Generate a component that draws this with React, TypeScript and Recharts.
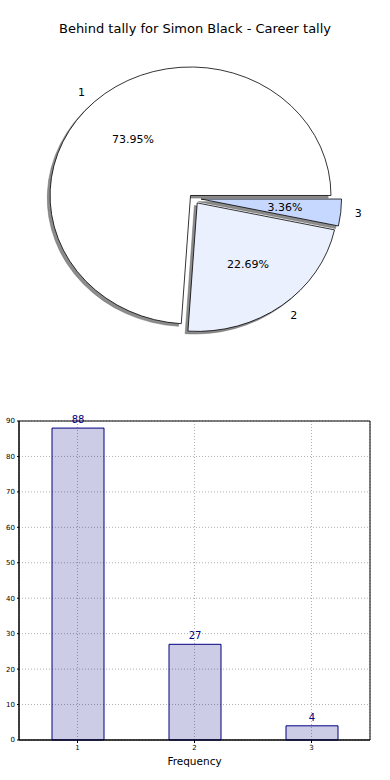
import {
  PieChart,
  Pie,
  BarChart,
  Bar,
  XAxis,
  YAxis,
  CartesianGrid,
  LabelList,
  ReferenceArea,
} from "recharts";

const CATEGORIES = ["1", "2", "3"];
const COUNTS = [88, 27, 4];
const Y_TICKS = [0, 10, 20, 30, 40, 50, 60, 70, 80, 90];
const TITLE = "Behind tally for Simon Black - Career tally";

const PIE_COLORS = ["#ffffff", "#eaf0fd", "#c6d8ff"];
const EXPLODE = [0.03, 0.045, 0.055];
const X_STRETCH = 1.093;
const SHADOW_DX = -2.8;
const SHADOW_DY = 2.6;
const RAD = Math.PI / 180;

const data = CATEGORIES.map((name, i) => ({ name, value: COUNTS[i] }));

function wedgePath(cx: number, cy: number, rx: number, ry: number, start: number, end: number) {
  const x1 = cx + rx * Math.cos(start * RAD);
  const y1 = cy - ry * Math.sin(start * RAD);
  const x2 = cx + rx * Math.cos(end * RAD);
  const y2 = cy - ry * Math.sin(end * RAD);
  const large = Math.abs(end - start) > 180 ? 1 : 0;
  return `M${cx},${cy} L${x1},${y1} A${rx},${ry} 0 ${large} 0 ${x2},${y2} Z`;
}

// matplotlib-style elliptical, exploded wedge drawn from the sector geometry recharts computes
const wedge = (shadow: boolean) => (props: any) => {
  const { cx, cy, outerRadius, startAngle, endAngle, midAngle, index, percent, name } = props;
  const rx = outerRadius * X_STRETCH;
  const ry = outerRadius;
  const c = Math.cos(midAngle * RAD);
  const s = Math.sin(midAngle * RAD);
  const ox = cx + EXPLODE[index] * rx * c;
  const oy = cy - EXPLODE[index] * ry * s;

  if (shadow) {
    return (
      <path
        key={`sh-${index}`}
        d={wedgePath(ox + SHADOW_DX, oy + SHADOW_DY, rx, ry, startAngle, endAngle)}
        fill="#8c8c8c"
        stroke="#6a6a6a"
        strokeWidth={0.5}
      />
    );
  }

  return (
    <g key={`w-${index}`}>
      <path
        d={wedgePath(ox, oy, rx, ry, startAngle, endAngle)}
        fill={PIE_COLORS[index]}
        stroke="#000"
        strokeWidth={0.8}
      />
      <text
        x={ox + 1.1 * rx * c}
        y={oy - 1.1 * ry * s}
        textAnchor={c >= 0 ? "start" : "end"}
        dominantBaseline="central"
        fontSize={11}
        fill="#000"
      >
        {name}
      </text>
      <text
        x={ox + 0.6 * rx * c}
        y={oy - 0.6 * ry * s}
        textAnchor="middle"
        dominantBaseline="central"
        fontSize={11}
        fill="#000"
      >
        {(percent * 100).toFixed(2)}%
      </text>
    </g>
  );
};

export default function App() {
  return (
    <div
      style={{
        position: "absolute",
        left: 0,
        top: 0,
        width: 390,
        height: 780,
        background: "#fff",
        fontFamily: "'DejaVu Sans', sans-serif",
      }}
    >
      <div
        style={{
          position: "absolute",
          top: 21,
          left: 0,
          width: 390,
          textAlign: "center",
          fontSize: 13,
          color: "#000",
        }}
      >
        {TITLE}
      </div>

      <div style={{ position: "absolute", top: 0, left: 0 }}>
        <PieChart width={390} height={390} margin={{ top: 0, right: 0, bottom: 0, left: 0 }}>
          <Pie
            data={data}
            dataKey="value"
            nameKey="name"
            cx={193.4}
            cy={198.3}
            outerRadius={128.5}
            startAngle={0}
            endAngle={360}
            fill="none"
            stroke="none"
            labelLine={false}
            label={wedge(true)}
            isAnimationActive={false}
          />
          <Pie
            data={data}
            dataKey="value"
            nameKey="name"
            cx={193.4}
            cy={198.3}
            outerRadius={128.5}
            startAngle={0}
            endAngle={360}
            fill="none"
            stroke="none"
            labelLine={false}
            label={wedge(false)}
            isAnimationActive={false}
          />
        </PieChart>
      </div>

      <div style={{ position: "absolute", top: 400, left: 0 }}>
        <BarChart
          width={390}
          height={380}
          data={data}
          margin={{ top: 21, right: 20, left: 0, bottom: 12 }}
        >
          <CartesianGrid stroke="#b0b0b0" strokeDasharray="1 2" />
          <XAxis
            dataKey="name"
            tick={{ fontSize: 7, fill: "#000" }}
            tickLine={{ stroke: "#000" }}
            tickSize={3}
            tickMargin={2}
            axisLine={{ stroke: "#000" }}
            height={28}
            label={{
              value: "Frequency",
              position: "insideBottom",
              offset: 3,
              fontSize: 10.5,
              fill: "#000",
            }}
          />
          <YAxis
            domain={[0, 90]}
            ticks={Y_TICKS}
            width={19}
            tick={{ fontSize: 7, fill: "#000" }}
            tickLine={{ stroke: "#000" }}
            tickSize={2}
            tickMargin={2}
            axisLine={{ stroke: "#000" }}
          />
          <ReferenceArea y1={0} y2={90} fill="none" stroke="#000" strokeWidth={1} ifOverflow="visible" />
          <Bar
            dataKey="value"
            barSize={52}
            fill="#000080"
            fillOpacity={0.2}
            stroke="#000080"
            strokeWidth={1}
            isAnimationActive={false}
          >
            <LabelList dataKey="value" position="top" fill="#000080" fontSize={10} />
          </Bar>
        </BarChart>
      </div>
    </div>
  );
}
